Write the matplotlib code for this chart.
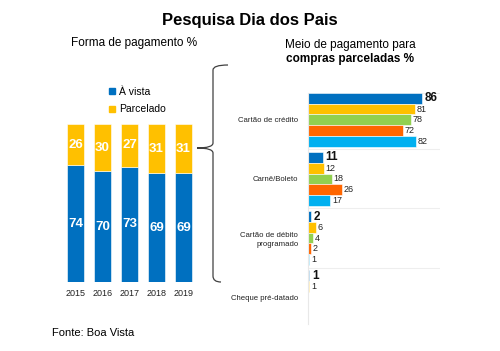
import matplotlib.pyplot as plt
from matplotlib.path import Path
from matplotlib.patches import PathPatch, Patch

plt.rcParams['font.family'] = ['Liberation Sans', 'DejaVu Sans']

# Forma de pagamento (%)
years = ['2015', '2016', '2017', '2018', '2019']
a_vista = [74, 70, 73, 69, 69]
parcelado = [26, 30, 27, 31, 31]

# Meio de pagamento para compras parceladas (%)
meios = ['Cartão de crédito', 'Carnê/Boleto', 'Cartão de débito\nprogramado', 'Cheque pré-datado']
s2019 = [86, 11, 2, 1]
s2018 = [81, 12, 6, 1]
s2017 = [78, 18, 4, None]
s2016 = [72, 26, 2, None]
s2015 = [82, 17, 1, None]

BLUE = '#0070C0'
YELLOW = '#FFC000'
series = [s2019, s2018, s2017, s2016, s2015]
colors = [BLUE, YELLOW, '#92D050', '#FF6600', '#00B0F0']

fig = plt.figure(figsize=(5, 3.51), dpi=100)

# left: stacked bars
ax1 = fig.add_axes([0.124, 0.1966, 0.27, 0.45])
x = range(len(years))
ax1.bar(x, a_vista, width=0.63, color=BLUE, edgecolor='white', linewidth=0.4)
ax1.bar(x, parcelado, bottom=a_vista, width=0.63, color=YELLOW, edgecolor='white', linewidth=0.4)
for i in x:
    ax1.text(i, a_vista[i] / 2, str(a_vista[i]), ha='center', va='center',
             color='white', fontsize=9.5, fontweight='bold')
    ax1.text(i, a_vista[i] + parcelado[i] / 2, str(parcelado[i]), ha='center', va='center',
             color='white', fontsize=9.5, fontweight='bold')
ax1.set_xlim(-0.5, 4.5)
ax1.set_ylim(0, 100)
ax1.set_xticks(list(x))
ax1.set_xticklabels(years, fontsize=6.5, color='#222222')
ax1.tick_params(length=0, pad=5)
ax1.set_yticks([])
for s in ax1.spines.values():
    s.set_visible(False)

fig.legend(handles=[Patch(color=BLUE, label='À vista'), Patch(color=YELLOW, label='Parcelado')],
           loc='upper left', bbox_to_anchor=(0.2, 0.78), frameon=False, fontsize=7.5,
           handlelength=0.5, handleheight=0.5, handletextpad=0.4, labelspacing=0.75)

# right: horizontal grouped bars
ax2 = fig.add_axes([0.616, 0.077, 0.264, 0.658])
pitch = 5.5
for j, (vals, c) in enumerate(zip(series, colors)):
    for i, v in enumerate(vals):
        if v is None:
            continue
        y = i * pitch + j
        ax2.barh(y, v, height=1.0, color=c, edgecolor='white', linewidth=0.4)
        if j == 0:
            ax2.text(v + 2.0, y, str(v), va='center', ha='left', fontsize=8.5,
                     fontweight='bold', color='#111111')
        else:
            ax2.text(v + 1.2, y, str(v), va='center', ha='left', fontsize=6.5, color='#222222')
for i in range(1, len(meios)):
    ax2.axhline(i * pitch - 0.75, color='#EEEEEE', linewidth=0.8, zorder=0)
ax2.axhline(-0.5, color='#EEEEEE', linewidth=0.8, zorder=0)
ax2.set_xlim(0, 100)
ax2.set_ylim(21, -0.5)
ax2.set_yticks([i * pitch + 2 for i in range(len(meios))])
ax2.set_yticklabels(meios, fontsize=5.6, color='#222222', linespacing=1.3)
ax2.tick_params(length=0, pad=7)
ax2.set_xticks([])
for s in ax2.spines.values():
    s.set_visible(False)
ax2.spines['left'].set_visible(True)
ax2.spines['left'].set_color('#E8E8E8')

# titles
fig.text(0.5, 0.942, 'Pesquisa Dia dos Pais', ha='center', va='center', fontsize=12, fontweight='bold')
fig.text(0.268, 0.877, 'Forma de pagamento %', ha='center', va='center', fontsize=8.5)
fig.text(0.7, 0.872, 'Meio de pagamento para', ha='center', va='center', fontsize=8.5)
fig.text(0.7, 0.832, 'compras parceladas %', ha='center', va='center', fontsize=8.5, fontweight='bold')
fig.text(0.104, 0.05, 'Fonte: Boa Vista', ha='left', va='center', fontsize=8)

# curly brace linking the two charts
ov = fig.add_axes([0, 0, 1, 1], facecolor='none')
ov.set_xlim(0, 500)
ov.set_ylim(351, 0)
ov.axis('off')
verts = [(228, 65), (213, 65), (213, 70),
         (213, 143), (213, 148), (197, 148),
         (213, 148), (213, 153), (213, 276),
         (213, 282), (221, 282)]
codes = [Path.MOVETO, Path.CURVE3, Path.CURVE3,
         Path.LINETO, Path.CURVE3, Path.CURVE3,
         Path.CURVE3, Path.CURVE3, Path.LINETO,
         Path.CURVE3, Path.CURVE3]
ov.add_patch(PathPatch(Path(verts, codes), fill=False, edgecolor='#404040', linewidth=0.9))

fig.savefig('out.png', dpi=100)
